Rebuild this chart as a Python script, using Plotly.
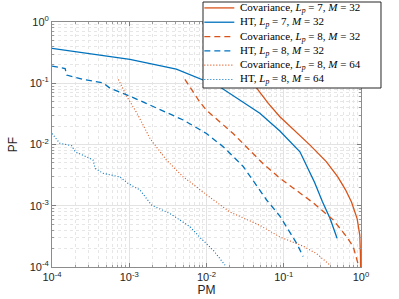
import plotly.graph_objects as go

# ---- data ----
ht7_32_pm = [1e-4, 2.51e-4, 1.02e-3, 4.07e-3, 9.12e-3, 0.0148, 0.049, 0.0891, 0.162, 0.204, 0.251, 0.316, 0.398, 0.490]
ht7_32_pf = [0.372, 0.316, 0.245, 0.170, 0.112, 0.0877, 0.0324, 0.0166, 0.00759, 0.00417, 0.0024, 0.00117, 6.17e-4, 2.95e-4]

cov7_32_pm = [0.0316, 0.0447, 0.0631, 0.0891, 0.141, 0.219, 0.355, 0.501, 0.631, 0.753, 0.891, 0.964, 0.984, 0.99]
cov7_32_pf = [0.148, 0.0832, 0.0468, 0.0284, 0.0166, 0.00977, 0.00525, 0.00295, 0.00182, 0.00115, 6.17e-4, 3.31e-4, 1.6e-4, 1e-4]

cov8_32_pm = [5.25e-3, 8.13e-3, 0.01, 0.0221, 0.0537, 0.0891, 0.240, 0.437, 0.646, 0.794, 0.918]
cov8_32_pf = [0.116, 0.0501, 0.0363, 0.0151, 0.0049, 0.00282, 0.00112, 5.89e-4, 3.16e-4, 2.14e-4, 1.12e-4]

ht8_32_pm = [1e-4, 1.48e-4, 1.55e-4, 2.57e-4, 4.57e-4, 5.62e-4, 1.02e-3, 2.26e-3, 5.01e-3, 0.01, 0.0166, 0.0299, 0.0398, 0.0603, 0.0891, 0.148, 0.178]
ht8_32_pf = [0.191, 0.174, 0.136, 0.115, 0.102, 0.0832, 0.0617, 0.0389, 0.0251, 0.0151, 0.00912, 0.00437, 0.00263, 0.00123, 6.76e-4, 2.40e-4, 1.48e-4]

cov8_64_pm = [7.24e-4, 9.33e-4, 1.26e-3, 1.86e-3, 3.02e-3, 5.01e-3, 7.41e-3, 0.01, 0.02, 0.049, 0.0891, 0.178, 0.265, 0.398]
cov8_64_pf = [0.115, 0.0603, 0.0324, 0.0125, 0.00562, 0.00295, 0.00204, 0.00151, 7.94e-4, 4.79e-4, 3.09e-4, 2.19e-4, 1.66e-4, 1.07e-4]

ht8_64_pm = [1e-4, 1.26e-4, 1.80e-4, 2.0e-4, 3.39e-4, 3.63e-4, 4.57e-4, 7.59e-4, 9.77e-4, 1.38e-3, 1.95e-3, 3.39e-3, 6.17e-3, 8.13e-3, 0.0123, 0.0174]
ht8_64_pf = [0.0151, 0.0105, 0.00955, 0.00759, 0.00562, 0.00407, 0.00339, 0.00295, 0.00229, 0.0018, 0.00102, 7.41e-4, 4.52e-4, 3.09e-4, 1.86e-4, 1.07e-4]

tick_vals = [1e-4, 1e-3, 1e-2, 1e-1, 1]
tick_text = ["10<sup>-4</sup>", "10<sup>-3</sup>", "10<sup>-2</sup>", "10<sup>-1</sup>", "10<sup>0</sup>"]

names = [
    "Covariance, <i>L</i><sub><i>p</i></sub> = 7, <i>M</i> = 32",
    "HT, <i>L</i><sub><i>p</i></sub> = 7, <i>M</i> = 32",
    "Covariance, <i>L</i><sub><i>p</i></sub> = 8, <i>M</i> = 32",
    "HT, <i>L</i><sub><i>p</i></sub> = 8, <i>M</i> = 32",
    "Covariance, <i>L</i><sub><i>p</i></sub> = 8, <i>M</i> = 64",
    "HT, <i>L</i><sub><i>p</i></sub> = 8, <i>M</i> = 64",
]

ORANGE = "#D95319"
BLUE = "#0072BD"
DASH = "6px,4px"
DOT = "1px,2px"

series = [
    (cov7_32_pm, cov7_32_pf, ORANGE, "solid", 1.3),
    (ht7_32_pm, ht7_32_pf, BLUE, "solid", 1.3),
    (cov8_32_pm, cov8_32_pf, ORANGE, DASH, 1.3),
    (ht8_32_pm, ht8_32_pf, BLUE, DASH, 1.3),
    (cov8_64_pm, cov8_64_pf, ORANGE, DOT, 1.1),
    (ht8_64_pm, ht8_64_pf, BLUE, DOT, 1.1),
]

fig = go.Figure()
for (xs, ys, c, d, w), n in zip(series, names):
    fig.add_trace(go.Scatter(x=xs, y=ys, mode="lines", name=n, showlegend=False,
                             line=dict(color=c, dash=d, width=w)))

# ---- compact MATLAB-like legend (paper coordinates) ----
L_X0, L_X1 = 0.4887, 1.0647
L_Y0, L_Y1 = 0.7306, 1.0816
ROW_TOP = 1.0575
ROW_STEP = 0.0584
SAMPLE_X0, SAMPLE_X1 = 0.4930, 0.5900
TEXT_X = 0.6010

shapes = [dict(type="rect", xref="paper", yref="paper", x0=L_X0, x1=L_X1, y0=L_Y0, y1=L_Y1,
               fillcolor="white", line=dict(color="#262626", width=1), layer="above")]
annotations = []
for i, ((xs, ys, c, d, w), n) in enumerate(zip(series, names)):
    yy = ROW_TOP - i * ROW_STEP
    shapes.append(dict(type="line", xref="paper", yref="paper", x0=SAMPLE_X0, x1=SAMPLE_X1,
                       y0=yy, y1=yy, line=dict(color=c, dash=d, width=w), layer="above"))
    annotations.append(dict(xref="paper", yref="paper", x=TEXT_X, y=yy, text=n, showarrow=False,
                            xanchor="left", yanchor="middle",
                            font=dict(family="Liberation Serif", size=11, color="black")))

axis_common = dict(
    type="log", range=[-4, 0], tickvals=tick_vals, ticktext=tick_text,
    ticks="inside", ticklen=4, tickcolor="#7f7f7f",
    showline=True, linecolor="#8c8c8c", linewidth=1, mirror="ticks",
    showgrid=True, gridcolor="#e3e3e3", gridwidth=1, zeroline=False,
    tickfont=dict(family="Liberation Sans", size=11, color="#262626"),
    minor=dict(dtick="D1", showgrid=True, gridcolor="#e6e6e6", griddash="dot",
               ticks="inside", ticklen=2, tickcolor="#9a9a9a"),
)

fig.update_layout(
    width=399, height=299,
    margin=dict(l=52, r=38, t=22, b=32, autoexpand=False),
    paper_bgcolor="white", plot_bgcolor="white",
    showlegend=False,
    shapes=shapes, annotations=annotations,
    xaxis=dict(axis_common, title=dict(text="PM", standoff=2,
               font=dict(family="Liberation Sans", size=12, color="#262626"))),
    yaxis=dict(axis_common, title=dict(text="PF", standoff=9,
               font=dict(family="Liberation Sans", size=12, color="#262626"))),
)

fig.write_html("out.html", config={"displayModeBar": False},
               post_script="document.body.style.margin='0';document.body.style.overflow='hidden';")
